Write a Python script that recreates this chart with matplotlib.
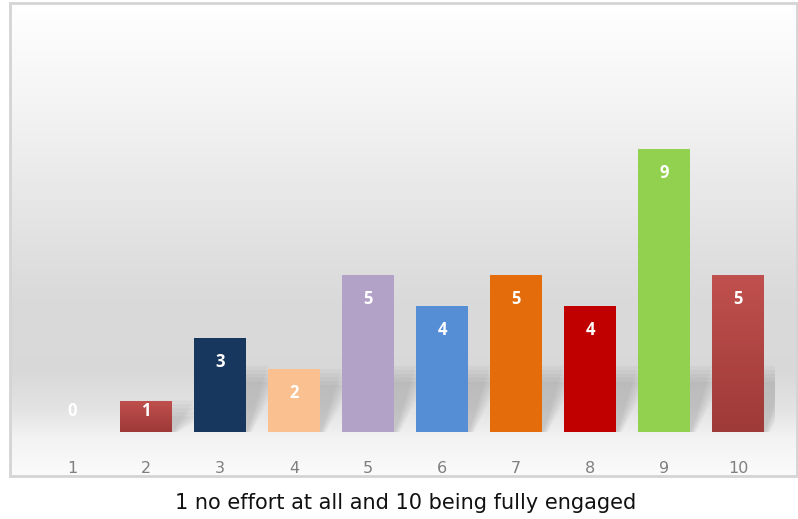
import numpy as np
import matplotlib.pyplot as plt
from matplotlib.patches import Rectangle, Polygon
from matplotlib.colors import LinearSegmentedColormap

# data
categories = ['1', '2', '3', '4', '5', '6', '7', '8', '9', '10']
values = [0, 1, 3, 2, 5, 4, 5, 4, 9, 5]
colors = ['#c0504d', '#b84644', '#17375e', '#fac090', '#b3a2c7',
          '#558ed5', '#e46c0a', '#c00000', '#92d050', '#b84644']
gradient_bars = [1, 9]  # indexes of the two reddish bars with a shading
caption = '1 no effort at all and 10 being fully engaged'

W, H = 798, 519
fig = plt.figure(figsize=(W / 100, H / 100), dpi=100)
fig.patch.set_facecolor('white')

# chart box
box_l, box_r, box_t, box_b = 10, 797, 3, 476
bg = fig.add_axes([box_l / W, 1 - box_b / H, (box_r - box_l) / W, (box_b - box_t) / H])
bg.set_axis_off()
stops = [(0.0, 1.0), (0.2, 0.96), (0.42, 0.905), (0.62, 0.855), (0.78, 0.85),
         (0.86, 0.89), (0.92, 0.95), (1.0, 0.985)]
ys = np.linspace(0, 1, 400)
grey = np.interp(ys, [s[0] for s in stops], [s[1] for s in stops])
img = np.stack([grey, grey, grey], axis=-1)[:, None, :].repeat(2, axis=1)
bg.imshow(img, aspect='auto', extent=[0, 1, 0, 1], origin='upper')
bg.set_xlim(0, 1)
bg.set_ylim(0, 1)
fig.patches.append(Rectangle((box_l / W, 1 - box_b / H), (box_r - box_l) / W,
                             (box_b - box_t) / H, transform=fig.transFigure,
                             fill=False, edgecolor='#d4d4d4', linewidth=2))

# plot area
px_per_unit = 31.45
ax_l, ax_r, ax_b, ax_t = 35, 775, 432, 40
ax = fig.add_axes([ax_l / W, 1 - ax_b / H, (ax_r - ax_l) / W, (ax_b - ax_t) / H])
ax.set_facecolor('none')
ax.set_xlim(0.5, 10.5)
ax.set_ylim(0, (ax_b - ax_t) / px_per_unit)

x = np.arange(1, len(values) + 1)
width = 0.7

# soft diagonal shadows behind the bars
for xi, v in zip(x, values):
    if v == 0:
        continue
    s = min(v, 2.1)
    for k in range(5):
        d = 0.05 * k
        poly = Polygon([(xi, 0), (xi + width / 2 + 0.02 + d * 0.3, 0),
                        (xi + width / 2 + 0.3 + d * 0.6, s - d * 2.5),
                        (xi, s - d * 2.5)],
                       closed=True, facecolor='#555555', edgecolor='none',
                       alpha=0.05, zorder=1)
        ax.add_patch(poly)

bars = ax.bar(x, values, width=width, color=colors, zorder=2,
              edgecolor='none')

# vertical shading for the reddish bars
cmap = LinearSegmentedColormap.from_list('red', ['#c0504d', '#9e3a38'])
for i in gradient_bars:
    b = bars[i]
    b.set_facecolor('none')
    im = ax.imshow(np.linspace(0, 1, 50)[:, None], cmap=cmap, aspect='auto',
                   extent=[b.get_x(), b.get_x() + b.get_width(), 0, b.get_height()],
                   origin='upper', zorder=2.5)
    im.set_clip_path(b)

for xi, v in zip(x, values):
    h_px = v * px_per_unit
    off = -24 if h_px > 48 else (21 - h_px)
    ax.annotate(str(v), (xi, v), xytext=(0, off), textcoords='offset pixels',
                ha='center', va='center', color='white', fontsize=12,
                fontweight='bold', family='Open Sans', zorder=3)

ax.set_xticks(x)
ax.set_xticklabels(categories)
ax.tick_params(axis='x', length=0, pad=21, labelsize=11.5, labelcolor='#7f7f7f')
ax.set_yticks([])
for sp in ax.spines.values():
    sp.set_visible(False)

fig.text(406 / W, 1 - 503 / H, caption, ha='center', va='center',
         fontsize=15, color='#111111')

plt.savefig('out.png', dpi=100)
